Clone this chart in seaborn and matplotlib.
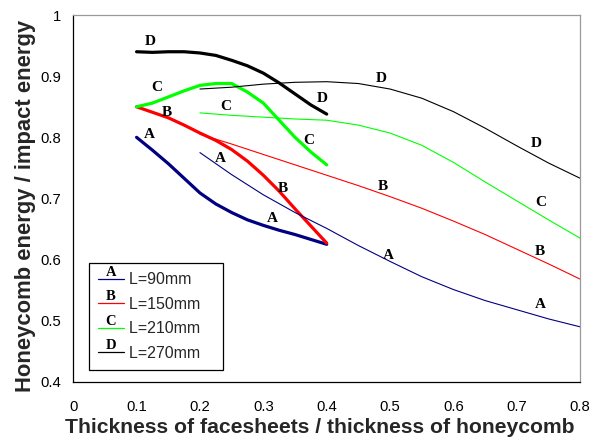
import matplotlib
matplotlib.use("Agg")
import matplotlib.pyplot as plt
import seaborn as sns
from matplotlib.legend_handler import HandlerLine2D
from matplotlib.lines import Line2D

# ---- data ----
thick_x = [0.1, 0.125, 0.15, 0.175, 0.2, 0.225, 0.25, 0.275, 0.3, 0.325, 0.35, 0.375, 0.4]
thickA = [0.800, 0.779, 0.757, 0.733, 0.709, 0.691, 0.677, 0.665, 0.656, 0.648, 0.641, 0.633, 0.625]
thickB = [0.850, 0.841, 0.832, 0.820, 0.807, 0.795, 0.780, 0.761, 0.738, 0.712, 0.683, 0.655, 0.627]
thickC = [0.850, 0.856, 0.866, 0.876, 0.885, 0.888, 0.888, 0.874, 0.856, 0.828, 0.800, 0.776, 0.755]
thickD = [0.940, 0.939, 0.940, 0.940, 0.938, 0.934, 0.926, 0.917, 0.905, 0.889, 0.871, 0.853, 0.838]

thin_x = [0.2, 0.25, 0.3, 0.35, 0.4, 0.45, 0.5, 0.55, 0.6, 0.65, 0.7, 0.75, 0.8]
thinA = [0.775, 0.739, 0.706, 0.677, 0.651, 0.623, 0.597, 0.572, 0.551, 0.533, 0.518, 0.503, 0.490]
thinB = [0.805, 0.789, 0.772, 0.755, 0.738, 0.721, 0.703, 0.684, 0.663, 0.641, 0.617, 0.593, 0.568]
thinC = [0.840, 0.836, 0.833, 0.830, 0.828, 0.820, 0.807, 0.787, 0.759, 0.727, 0.696, 0.665, 0.635]
thinD = [0.879, 0.882, 0.887, 0.890, 0.891, 0.888, 0.879, 0.864, 0.842, 0.815, 0.786, 0.758, 0.733]

series_letters = ["A", "B", "C", "D"]
legend_labels = ["L=90mm", "L=150mm", "L=210mm", "L=270mm"]
colors = ["#000080", "#FF0000", "#00FF00", "#000000"]

# curve letter annotations
lab_text = ["D", "D", "D", "D", "C", "C", "C", "C", "B", "B", "B", "B", "A", "A", "A", "A", "A"]
lab_x = [0.121, 0.393, 0.486, 0.730, 0.132, 0.241, 0.371, 0.737, 0.148, 0.331, 0.489, 0.737, 0.120, 0.232, 0.314, 0.497, 0.737]
lab_y = [0.956, 0.864, 0.897, 0.790, 0.881, 0.850, 0.794, 0.694, 0.841, 0.717, 0.719, 0.613, 0.805, 0.766, 0.667, 0.606, 0.526]

xticks = [0, 0.1, 0.2, 0.3, 0.4, 0.5, 0.6, 0.7, 0.8]
xticklabels = ["0", "0.1", "0.2", "0.3", "0.4", "0.5", "0.6", "0.7", "0.8"]
yticks = [0.4, 0.5, 0.6, 0.7, 0.8, 0.9, 1.0]
yticklabels = ["0.4", "0.5", "0.6", "0.7", "0.8", "0.9", "1"]

# ---- plot ----
sns.set_theme(style="white")
plt.rcParams["font.family"] = ["Liberation Sans", "DejaVu Sans"]

fig = plt.figure(figsize=(6, 4.43), dpi=100)
ax = fig.add_axes([0.122, 0.138, 0.845, 0.828])

thick_sets = [thickA, thickB, thickC, thickD]
thin_sets = [thinA, thinB, thinC, thinD]
for ys, c in zip(thick_sets, colors):
    sns.lineplot(x=thick_x, y=ys, ax=ax, color=c, lw=2.3, sort=False)
for ys, c in zip(thin_sets, colors):
    sns.lineplot(x=thin_x, y=ys, ax=ax, color=c, lw=0.8, sort=False)

for t, x, y in zip(lab_text, lab_x, lab_y):
    ax.text(x, y, t, ha="center", va="center", fontsize=11, fontweight="bold",
            family="Liberation Serif", color="black")

ax.set_xlim(0, 0.8)
ax.set_ylim(0.4, 1.0)
ax.set_xticks(xticks)
ax.set_xticklabels(xticklabels)
ax.set_yticks(yticks)
ax.set_yticklabels(yticklabels)
ax.tick_params(axis="both", direction="out", length=3, width=0.8, labelsize=10.7,
               colors="black")
ax.tick_params(axis="x", pad=10)
ax.tick_params(axis="y", pad=5.5)
ax.set_xlabel("Thickness of facesheets / thickness of honeycomb", fontsize=15.2,
              fontweight="bold")
ax.set_ylabel("Honeycomb energy / impact energy", fontsize=15.8, fontweight="bold")
ax.xaxis.label.set_va("center")
ax.xaxis.label.set_ha("center")
ax.yaxis.label.set_va("center")
ax.yaxis.label.set_ha("center")
ax.xaxis.set_label_coords(0.487, -0.125)
ax.yaxis.set_label_coords(-0.095, 0.48)

for s in ["left", "bottom"]:
    ax.spines[s].set_color("black")
    ax.spines[s].set_linewidth(0.9)
for s in ["top", "right"]:
    ax.spines[s].set_color("#999999")
    ax.spines[s].set_linewidth(0.9)


class LetterHandler(HandlerLine2D):
    def __init__(self, letter, **kw):
        super().__init__(**kw)
        self.letter = letter

    def create_artists(self, legend, orig_handle, xdescent, ydescent, width, height,
                       fontsize, trans):
        artists = super().create_artists(legend, orig_handle, xdescent, ydescent,
                                         width, height, fontsize, trans)
        txt = matplotlib.text.Text(width / 2 - xdescent, height * 0.5, self.letter,
                                   ha="center", va="bottom", fontsize=10.5,
                                   fontweight="bold", family="Liberation Serif",
                                   color="black", transform=trans)
        return list(artists) + [txt]


handles = [Line2D([], [], color=c, lw=0.9) for c in colors]
hmap = {h: LetterHandler(l) for h, l in zip(handles, series_letters)}
leg = ax.legend(handles, [l + "   " for l in legend_labels], handler_map=hmap,
                loc="lower left", bbox_to_anchor=(0.032, 0.033), frameon=True,
                fancybox=False, edgecolor="black", fontsize=11.5, handlelength=1.6,
                handletextpad=0.35, labelspacing=0.6, borderpad=0.55, borderaxespad=0,
                framealpha=1)
leg.get_frame().set_linewidth(0.9)

fig.savefig("out.png", dpi=100)
